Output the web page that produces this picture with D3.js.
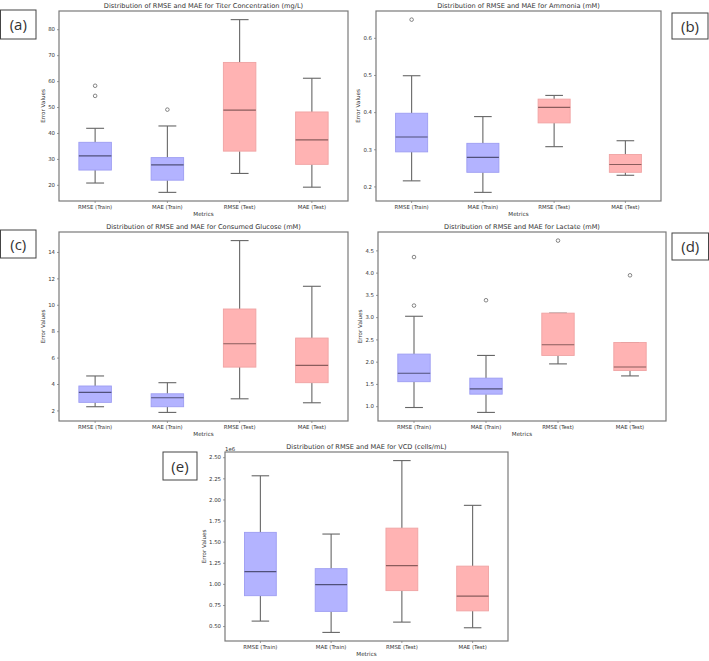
<!DOCTYPE html>
<html>
<head>
<meta charset="utf-8">
<script src="https://cdn.jsdelivr.net/npm/d3@7/dist/d3.min.js"></script>
<style>
  body { margin: 0; background: #fff; }
  text { font-family: "DejaVu Sans", sans-serif; fill: #333; }
</style>
</head>
<body>
<div id="chart"></div>
<script>
const metrics = ["RMSE (Train)", "MAE (Train)", "RMSE (Test)", "MAE (Test)"];

// each box: [lower whisker, Q1, median, Q3, upper whisker]
const titerStats = [[20.7, 25.7, 31.2, 36.4, 41.8], [17.1, 21.8, 27.7, 30.5, 42.7], [24.4, 33.0, 48.8, 67.2, 83.7], [19.1, 27.9, 37.3, 48.1, 61.1]];
const titerOutliers = [[54.3, 58.2], [49.0], [], []];

const ammoniaStats = [[0.215, 0.293, 0.333, 0.397, 0.498], [0.184, 0.238, 0.278, 0.316, 0.388], [0.307, 0.371, 0.413, 0.435, 0.445], [0.230, 0.238, 0.259, 0.286, 0.323]];
const ammoniaOutliers = [[0.649], [], [], []];

const glucoseStats = [[2.28, 2.61, 3.37, 3.85, 4.61], [1.85, 2.28, 2.96, 3.26, 4.10], [2.88, 5.28, 7.05, 9.68, 14.86], [2.58, 4.10, 5.41, 7.48, 11.4]];
const glucoseOutliers = [[], [], [], []];

const lactateStats = [[0.97, 1.55, 1.74, 2.17, 3.02], [0.86, 1.27, 1.39, 1.63, 2.14], [1.95, 2.14, 2.38, 3.09, 3.09], [1.68, 1.80, 1.88, 2.43, 2.43]];
const lactateOutliers = [[3.26, 4.35], [3.38], [4.72], [3.94]];

const vcdStats = [[0.559, 0.86, 1.145, 1.61, 2.28], [0.425, 0.674, 0.99, 1.18, 1.59], [0.547, 0.92, 1.215, 1.66, 2.46], [0.48, 0.68, 0.855, 1.21, 1.93]];
const vcdOutliers = [[], [], [], []];

const titerTicks = [20, 30, 40, 50, 60, 70, 80];
const ammoniaTicks = [0.2, 0.3, 0.4, 0.5, 0.6];
const glucoseTicks = [2, 4, 6, 8, 10, 12, 14];
const lactateTicks = [1.0, 1.5, 2.0, 2.5, 3.0, 3.5, 4.0, 4.5];
const vcdTicks = [0.50, 0.75, 1.00, 1.25, 1.50, 1.75, 2.00, 2.25, 2.50];

const panels = [
  { title: "Distribution of RMSE and MAE for Titer Concentration (mg/L)", stats: titerStats, outliers: titerOutliers,
    ticks: titerTicks, fmt: "d", x: 59, y: 11, w: 289, h: 190, ylabDx: 16, label: "(a)", lb: [0.5, 10, 35.5, 29] },
  { title: "Distribution of RMSE and MAE for Ammonia (mM)", stats: ammoniaStats, outliers: ammoniaOutliers,
    ticks: ammoniaTicks, fmt: ".1f", x: 376, y: 11, w: 285, h: 190, ylabDx: 18, label: "(b)", lb: [672, 13, 36, 26] },
  { title: "Distribution of RMSE and MAE for Consumed Glucose (mM)", stats: glucoseStats, outliers: glucoseOutliers,
    ticks: glucoseTicks, fmt: "d", x: 59, y: 232, w: 289, h: 189, ylabDx: 16, label: "(c)", lb: [0.5, 230, 35.5, 28] },
  { title: "Distribution of RMSE and MAE for Lactate (mM)", stats: lactateStats, outliers: lactateOutliers,
    ticks: lactateTicks, fmt: ".1f", x: 378, y: 232, w: 288, h: 189, ylabDx: 18, label: "(d)", lb: [672, 233, 36.5, 27] },
  { title: "Distribution of RMSE and MAE for VCD (cells/mL)", stats: vcdStats, outliers: vcdOutliers,
    ticks: vcdTicks, fmt: ".2f", x: 225, y: 452, w: 283, h: 189, ylabDx: 21, label: "(e)", lb: [163, 452, 34, 28], offset: "1e6" }
];

const fills = ["#b3b3ff", "#b3b3ff", "#ffb3b3", "#ffb3b3"];
const edges = ["#9d9df2", "#9d9df2", "#f0a3a3", "#f0a3a3"];
const medians = ["#50507a", "#50507a", "#8a5c5c", "#8a5c5c"];

const svg = d3.select("#chart").append("svg")
  .attr("width", 709)
  .attr("height", 661);

panels.forEach(function (p) {
  const g = svg.append("g").attr("transform", "translate(" + p.x + "," + p.y + ")");

  // y range like matplotlib: data extent plus 5% margins
  const all = p.stats.flat().concat(p.outliers.flat());
  const lo = d3.min(all), hi = d3.max(all), pad = (hi - lo) * 0.05;
  const y = d3.scaleLinear().domain([lo - pad, hi + pad]).range([p.h, 0]);

  const x = d3.scaleBand().domain(metrics).range([0, p.w]).paddingInner(0).paddingOuter(0);
  const bw = x.bandwidth() * 0.45;
  const cw = bw * 0.55;

  // axes
  const yAxis = d3.axisLeft(y).tickValues(p.ticks).tickSize(2).tickPadding(2).tickFormat(d3.format(p.fmt));
  const ya = g.append("g").call(yAxis);
  const xa = g.append("g").attr("transform", "translate(0," + p.h + ")")
    .call(d3.axisBottom(x).tickSize(2).tickPadding(2));
  [ya, xa].forEach(function (a) {
    a.select(".domain").remove();
    a.selectAll("line").attr("stroke", "#555").attr("stroke-width", 0.6);
    a.selectAll("text").style("font-size", "5.4px").attr("fill", "#333");
  });

  // boxes
  const boxes = g.selectAll(".box").data(p.stats).enter().append("g")
    .attr("transform", function (d, i) { return "translate(" + (x(metrics[i]) + x.bandwidth() / 2) + ",0)"; });

  boxes.append("line")
    .attr("x1", 0).attr("x2", 0)
    .attr("y1", function (d) { return y(d[0]); })
    .attr("y2", function (d) { return y(d[1]); })
    .attr("stroke", "#666").attr("stroke-width", 1.1);
  boxes.append("line")
    .attr("x1", 0).attr("x2", 0)
    .attr("y1", function (d) { return y(d[3]); })
    .attr("y2", function (d) { return y(d[4]); })
    .attr("stroke", "#666").attr("stroke-width", 1.1);
  [0, 4].forEach(function (k) {
    boxes.append("line")
      .attr("x1", -cw / 2).attr("x2", cw / 2)
      .attr("y1", function (d) { return y(d[k]); })
      .attr("y2", function (d) { return y(d[k]); })
      .attr("stroke", "#666").attr("stroke-width", 1.1);
  });
  boxes.append("rect")
    .attr("x", -bw / 2).attr("width", bw)
    .attr("y", function (d) { return y(d[3]); })
    .attr("height", function (d) { return y(d[1]) - y(d[3]); })
    .attr("fill", function (d, i) { return fills[i]; })
    .attr("stroke", function (d, i) { return edges[i]; })
    .attr("stroke-width", 0.9);
  boxes.append("line")
    .attr("x1", -bw / 2).attr("x2", bw / 2)
    .attr("y1", function (d) { return y(d[2]); })
    .attr("y2", function (d) { return y(d[2]); })
    .attr("stroke", function (d, i) { return medians[i]; })
    .attr("stroke-width", 1.2);

  // outliers
  boxes.each(function (d, i) {
    d3.select(this).selectAll("circle").data(p.outliers[i]).enter().append("circle")
      .attr("cx", 0).attr("cy", function (v) { return y(v); }).attr("r", 1.8)
      .attr("fill", "none").attr("stroke", "#555").attr("stroke-width", 0.7);
  });

  // frame
  g.append("rect").attr("width", p.w).attr("height", p.h)
    .attr("fill", "none").attr("stroke", "#7a7a7a").attr("stroke-width", 1.2);

  g.append("text").attr("x", p.w / 2).attr("y", -3).attr("text-anchor", "middle")
    .style("font-size", "6.6px").text(p.title);
  g.append("text").attr("x", p.w / 2).attr("y", p.h + 15).attr("text-anchor", "middle")
    .style("font-size", "5.6px").text("Metrics");
  g.append("text")
    .attr("transform", "translate(" + (-p.ylabDx + 2) + "," + (p.h / 2) + ") rotate(-90)")
    .attr("text-anchor", "middle").style("font-size", "5.6px").text("Error Values");
  if (p.offset) {
    g.append("text").attr("x", 0).attr("y", -1.5).style("font-size", "5.4px").text(p.offset);
  }

  // panel label box
  svg.append("rect").attr("x", p.lb[0]).attr("y", p.lb[1]).attr("width", p.lb[2]).attr("height", p.lb[3])
    .attr("fill", "#fff").attr("stroke", "#444").attr("stroke-width", 1);
  svg.append("text").attr("x", p.lb[0] + p.lb[2] / 2).attr("y", p.lb[1] + p.lb[3] / 2 + 5.5)
    .attr("text-anchor", "middle").style("font-family", "'Open Sans', sans-serif")
    .style("font-size", "15px").attr("fill", "#111").text(p.label);
});
</script>
</body>
</html>
